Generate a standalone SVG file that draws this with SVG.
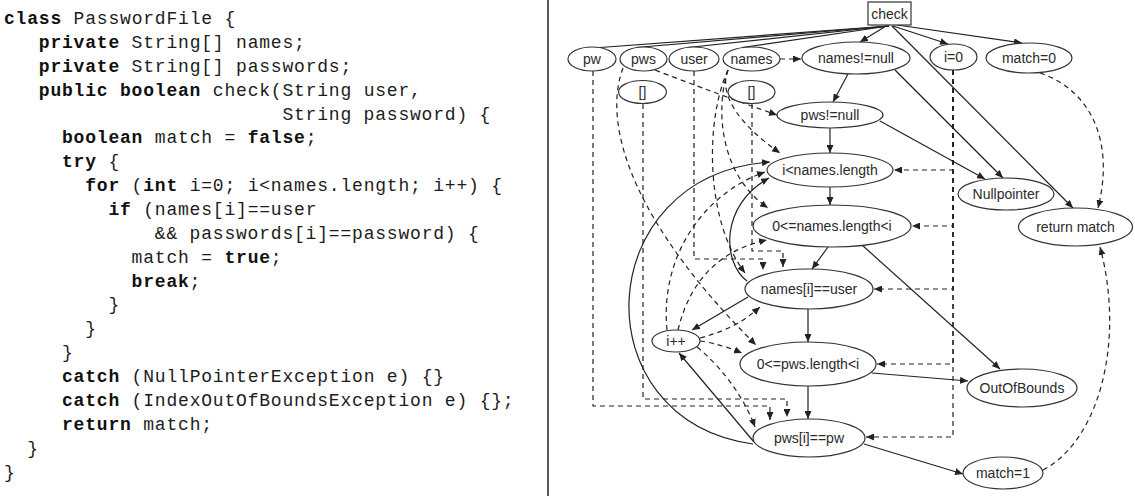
<svg xmlns="http://www.w3.org/2000/svg" width="1135" height="496" viewBox="0 0 1135 496">
  <style>
    .code { font-family: "Liberation Mono", monospace; font-size: 18px; letter-spacing: 0.8px; fill: #1c1c1c; }
    .kw { font-weight: bold; fill: #111; }
    .node ellipse, .node rect { fill: #fff; stroke: #333; stroke-width: 1.2; }
    .node text { font-family: "Liberation Sans", Arial, sans-serif; font-size: 14px; fill: #2a2a2a; text-anchor: middle; }
    .ctl { fill: none; stroke: #222; stroke-width: 1.2; }
    .ctl.arr { marker-end: url(#ah); }
    .dat { fill: none; stroke: #222; stroke-width: 1.2; stroke-dasharray: 5 4; marker-end: url(#ah); }
  </style>
  <defs>
    <marker id="ah" markerUnits="userSpaceOnUse" markerWidth="9" markerHeight="7" refX="8" refY="3.5" orient="auto">
      <path d="M0,0 L8,3.5 L0,7 z" fill="#222"/>
    </marker>
  </defs>
  <rect width="1135" height="496" fill="#fff"/>

  <!-- source listing -->
  <g id="listing" class="code">
    <text x="4" y="24"><tspan class="kw">class</tspan> PasswordFile {</text>
    <text x="38.8" y="47.9"><tspan class="kw">private</tspan> String[] names;</text>
    <text x="38.8" y="71.7"><tspan class="kw">private</tspan> String[] passwords;</text>
    <text x="38.8" y="95.6"><tspan class="kw">public boolean</tspan> check(String user,</text>
    <text x="282.4" y="119.5">String password) {</text>
    <text x="62" y="143.4"><tspan class="kw">boolean</tspan> match = <tspan class="kw">false</tspan>;</text>
    <text x="62" y="167.2"><tspan class="kw">try</tspan> {</text>
    <text x="85.2" y="191.1"><tspan class="kw">for</tspan> (<tspan class="kw">int</tspan> i=0; i&lt;names.length; i++) {</text>
    <text x="108.4" y="215"><tspan class="kw">if</tspan> (names[i]==user</text>
    <text x="154.8" y="238.8">&amp;&amp; passwords[i]==password) {</text>
    <text x="131.6" y="262.7">match = <tspan class="kw">true</tspan>;</text>
    <text x="131.6" y="286.6"><tspan class="kw">break</tspan>;</text>
    <text x="108.4" y="310.4">}</text>
    <text x="85.2" y="334.3">}</text>
    <text x="62" y="358.2">}</text>
    <text x="62" y="382"><tspan class="kw">catch</tspan> (NullPointerException e) {}</text>
    <text x="62" y="405.9"><tspan class="kw">catch</tspan> (IndexOutOfBoundsException e) {};</text>
    <text x="62" y="429.8"><tspan class="kw">return</tspan> match;</text>
    <text x="27.2" y="453.6">}</text>
    <text x="4" y="477.5">}</text>
  </g>

  <line x1="548" y1="0" x2="548" y2="496" stroke="#222" stroke-width="1.5"/>

  <!-- dependence edges: solid = control, dashed = data -->
  <g id="edges">
    <!-- entry to formal parameters -->
    <path class="ctl" d="M889,26 L580,49"/>
    <path class="ctl" d="M889,26 L636,47.5"/>
    <path class="ctl" d="M889,26 L688,47.5"/>
    <path class="ctl" d="M889,26 L742,47.5"/>
    <path class="ctl arr" d="M886,26 L860,42"/>
    <path class="ctl arr" d="M893,26 L948,44"/>
    <path class="ctl arr" d="M897,25 L1022,43"/>
    <path class="ctl arr" d="M892,26 L1073,208"/>
    <path class="ctl arr" d="M848,74 L833,102"/>
    <path class="ctl arr" d="M895,70 L1003,178"/>
    <path class="ctl arr" d="M880,121 L985,179"/>
    <path class="ctl arr" d="M830,128 L830,153"/>
    <path class="ctl arr" d="M830,187 L830,205"/>
    <path class="ctl arr" d="M828,247 L812,269"/>
    <path class="ctl arr" d="M862,245 L1000,369"/>
    <path class="ctl arr" d="M808,309 L808,342"/>
    <path class="ctl arr" d="M748,297 L692,330"/>
    <path class="ctl arr" d="M747,281 C722,262 720,205 769,178"/>
    <path class="ctl arr" d="M808,386 L808,419"/>
    <path class="ctl arr" d="M872,373 L968,381"/>
    <path class="ctl arr" d="M864,444 L963,474"/>
    <path class="ctl arr" d="M754,442 L679,353"/>
    <path class="ctl arr" d="M753,444 C580,420 590,175 770,162"/>

    <!-- data flow -->
    <path class="dat" d="M780,59 L801,59"/>
    <path class="dat" d="M655,70 Q720,95 777,115"/>
    <path class="dat" d="M728,70 C718,95 740,125 780,153"/>
    <path class="dat" d="M728,70 C715,110 720,175 768,208"/>
    <path class="dat" d="M728,70 C705,120 705,220 745,273"/>
    <path class="dat" d="M623,68 C600,130 640,230 756,345"/>
    <path class="dat" d="M593,71 V406 H770 V420"/>
    <path class="dat" d="M643,104 V399 H787 V417"/>
    <path class="dat" d="M694,71 V259 H763 V270"/>
    <path class="dat" d="M752,104 V251 H783 V267"/>
    <path class="dat" d="M953,70 V170 H894"/>
    <path class="dat" d="M953,70 V226 H912"/>
    <path class="dat" d="M953,70 V289 H874"/>
    <path class="dat" d="M953,70 V364 H877"/>
    <path class="dat" d="M953,70 V437 H866"/>
    <path class="dat" d="M1040,73 C1090,90 1115,140 1098,208"/>
    <path class="dat" d="M1043,470 C1100,440 1125,340 1100,247"/>
    <path class="dat" d="M667,330 C660,260 700,195 765,172"/>
    <path class="dat" d="M678,330 C690,280 720,250 767,240"/>
    <path class="dat" d="M700,338 C730,330 745,320 760,307"/>
    <path class="dat" d="M700,341 C715,343 730,348 742,353"/>
    <path class="dat" d="M697,347 C725,370 745,400 755,427"/>
  </g>

  <g id="n-check" class="node"><rect x="868" y="2" width="43" height="23"/><text x="889.5" y="18.5">check</text></g>
  <g id="n-pw" class="node"><ellipse cx="592" cy="59" rx="24" ry="12"/><text x="592" y="64">pw</text></g>
  <g id="n-pws" class="node"><ellipse cx="643.5" cy="59" rx="23.5" ry="12"/><text x="643.5" y="64">pws</text></g>
  <g id="n-user" class="node"><ellipse cx="694" cy="59" rx="25" ry="12"/><text x="694" y="64">user</text></g>
  <g id="n-names" class="node"><ellipse cx="751.5" cy="59" rx="28.5" ry="12"/><text x="751.5" y="64">names</text></g>
  <g id="n-names-notnull" class="node"><ellipse cx="856" cy="58" rx="54" ry="16"/><text x="856" y="63">names!=null</text></g>
  <g id="n-i0" class="node"><ellipse cx="953.5" cy="57" rx="23.5" ry="13"/><text x="953.5" y="62">i=0</text></g>
  <g id="n-match0" class="node"><ellipse cx="1029" cy="58" rx="43" ry="15"/><text x="1029" y="63">match=0</text></g>
  <g id="n-pws-arr" class="node"><ellipse cx="642.5" cy="92" rx="24" ry="11.5"/><text x="642.5" y="97">[]</text></g>
  <g id="n-names-arr" class="node"><ellipse cx="751.5" cy="92" rx="23.5" ry="11.5"/><text x="751.5" y="97">[]</text></g>
  <g id="n-pws-notnull" class="node"><ellipse cx="830" cy="115" rx="53" ry="13"/><text x="830" y="120">pws!=null</text></g>
  <g id="n-loop" class="node"><ellipse cx="830" cy="170" rx="63" ry="17"/><text x="830" y="175">i&lt;names.length</text></g>
  <g id="n-names-bound" class="node"><ellipse cx="832" cy="226" rx="79" ry="21"/><text x="832" y="231">0&lt;=names.length&lt;i</text></g>
  <g id="n-user-eq" class="node"><ellipse cx="809" cy="289" rx="64" ry="20"/><text x="809" y="294">names[i]==user</text></g>
  <g id="n-inc" class="node"><ellipse cx="676" cy="341" rx="24" ry="11"/><text x="676" y="346">i++</text></g>
  <g id="n-pws-bound" class="node"><ellipse cx="808" cy="364" rx="68" ry="22"/><text x="808" y="369">0&lt;=pws.length&lt;i</text></g>
  <g id="n-pw-eq" class="node"><ellipse cx="809" cy="438" rx="56" ry="19"/><text x="809" y="443">pws[i]==pw</text></g>
  <g id="n-nullpointer" class="node"><ellipse cx="1006" cy="194" rx="48" ry="16"/><text x="1006" y="199">Nullpointer</text></g>
  <g id="n-return" class="node"><ellipse cx="1075.5" cy="227" rx="57" ry="19"/><text x="1075.5" y="232">return match</text></g>
  <g id="n-bounds" class="node"><ellipse cx="1022" cy="388" rx="55" ry="19"/><text x="1022" y="393">OutOfBounds</text></g>
  <g id="n-match1" class="node"><ellipse cx="1003" cy="473" rx="40" ry="16"/><text x="1003" y="478">match=1</text></g>
</svg>
